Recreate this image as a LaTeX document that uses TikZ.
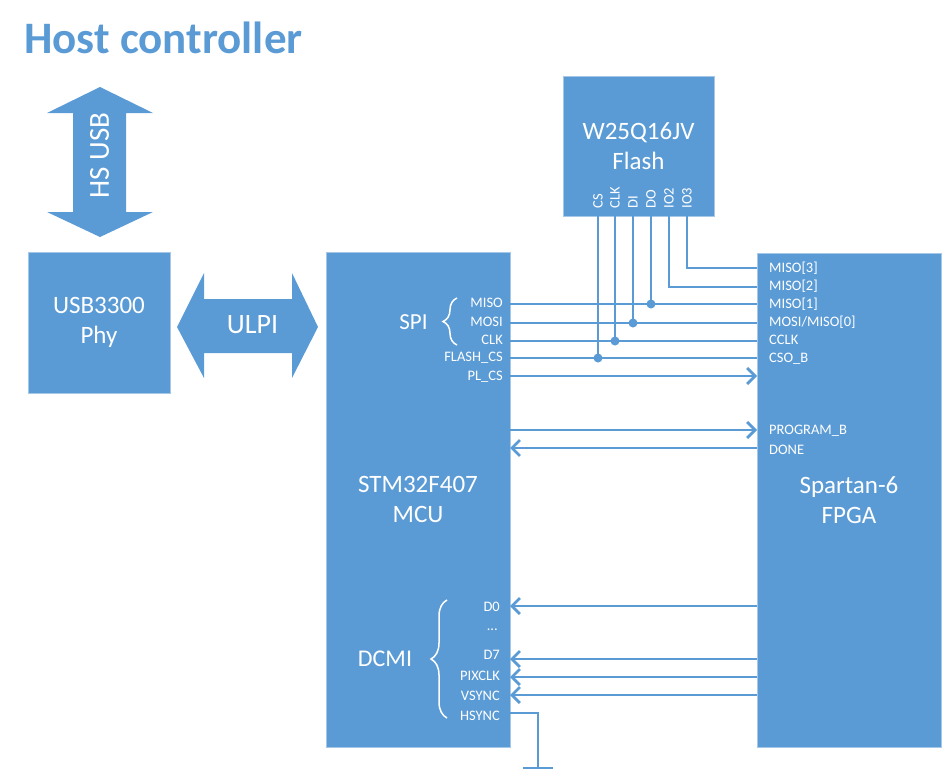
\documentclass[tikz,border=0pt]{standalone}
\usepackage{fontspec}
\setmainfont{Carlito}
\usetikzlibrary{positioning,arrows.meta,decorations.pathreplacing}
\definecolor{hcblue}{HTML}{5B9BD5}

\begin{document}
\begin{tikzpicture}[x=1pt, y=-1pt,
  block/.style={draw=hcblue!55!white, line width=0.8pt, fill=hcblue, text=white, align=center, inner sep=0pt, font=\fontsize{25}{30}\selectfont},
  pin/.style={text=white, inner sep=0pt, font=\fontsize{14.5}{16}\selectfont},
  wire/.style={draw=hcblue, line width=2.7pt},
  sig/.style={wire, -{Straight Barb[length=8pt,width=16pt]}},
  dot/.style={circle, fill=hcblue, inner sep=0pt, minimum size=9pt},
  curly/.style={draw=white, line width=1.5pt, decorate, decoration={brace, amplitude=#1}}]

  \useasboundingbox (0,0) rectangle (951,771);

  \node[anchor=base west, inner sep=0pt, text=hcblue, font=\bfseries\fontsize{45}{50}\selectfont] (title) at (24,53) {Host controller};

  \node[block, minimum width=142pt, minimum height=141pt] (phy) at (99,322.5) {USB3300\\Phy};
  \node[block, minimum width=184pt, minimum height=495pt] (mcu) at (418,499.5) {STM32F407\\MCU};
  \node[block, minimum width=184pt, minimum height=494pt] (fpga) at (849,500) {Spartan-6\\FPGA};
  \node[block, minimum width=151pt, minimum height=140pt] (flash) at (638.5,146) {W25Q16JV\\Flash};

  % fat double arrows
  \fill[hcblue] (100,87) -- (153,113) -- (126,113) -- (126,212) -- (153,212) -- (100,237) -- (47,212) -- (73,212) -- (73,113) -- (47,113) -- cycle;
  \node[rotate=90, inner sep=0pt, text=white, font=\fontsize{29}{32}\selectfont] (hsusb) at (99.5,155.5) {HS USB};
  \fill[hcblue] (177,327) -- (204,273) -- (204,299) -- (292,299) -- (292,273) -- (318,327) -- (292,378) -- (292,353) -- (204,353) -- (204,378) -- cycle;
  \node[inner sep=0pt, text=white, font=\fontsize{28}{32}\selectfont] (ulpi) at (252.5,325) {ULPI};

  % flash pins
  \foreach \nm/\px/\lab in {cs/598/CS, clk/615/CLK, di/633/DI, do/651/DO, iotwo/669/IO2, iothree/687/IO3} {
    \coordinate (f\nm) at (\px,216);
    \node[pin, rotate=90, anchor=west] (l\nm) at (\px,208.5) {\lab};
  }

  % mcu pins
  \foreach \nm/\py in {miso/304, mosi/323, clk/341, fcs/358, plcs/376, prog/430, done/448, dz/606, ds/659, pix/677, vs/695, hs/713}
    \coordinate (m\nm) at (510,\py);
  \foreach \nm/\py/\lab in {miso/307/MISO, mosi/326/MOSI, clk/344/CLK, fcs/361/FLASH\_CS, plcs/380/PL\_CS}
    \node[pin, anchor=base east] (lm\nm) at (503,\py) {\lab};
  \foreach \nm/\py/\lab in {dz/611/D0, ds/659/D7, pix/680/PIXCLK, vs/700/VSYNC, hs/720/HSYNC}
    \node[pin, anchor=base east] (lm\nm) at (500,\py) {\lab};
  \node[pin, anchor=base east] (lmdots) at (498,630) {...};

  % fpga pins
  \foreach \nm/\py in {mthree/268, mtwo/287, mone/304, mzero/323, cclk/341, cso/358, plcs/376, prog/430, done/448, dz/606, ds/659, pix/677, vs/695}
    \coordinate (p\nm) at (757,\py);
  \foreach \nm/\py/\lab in {mthree/272/{MISO[3]}, mtwo/290/{MISO[2]}, mone/308/{MISO[1]}, mzero/326/{MOSI/MISO[0]}, cclk/344/CCLK, cso/362/CSO\_B, prog/434/PROGRAM\_B, done/454/DONE}
    \node[pin, anchor=base west] (lp\nm) at (769,\py) {\lab};

  \node[text=white, inner sep=0pt, font=\fontsize{23}{26}\selectfont] (spi) at (413.5,322) {SPI};
  \node[text=white, inner sep=0pt, font=\fontsize{24}{26}\selectfont] (dcmi) at (385,659) {DCMI};
  \draw[curly=14pt] (457,345) -- (457,298);
  \draw[curly=16pt] (447,718) -- (447,600);

  \draw[wire] (mmiso) -- (pmone);
  \draw[wire] (mmosi) -- (pmzero);
  \draw[wire] (mclk) -- (pcclk);
  \draw[wire] (mfcs) -- (pcso);
  \draw[sig] (mplcs) -- (pplcs);
  \draw[sig] (mprog) -- (pprog);
  \draw[sig] (pdone) -- (mdone);

  \node[dot] (jdo) at (fdo |- mmiso) {};
  \node[dot] (jdi) at (fdi |- mmosi) {};
  \node[dot] (jclk) at (fclk |- mclk) {};
  \node[dot] (jcs) at (fcs |- mfcs) {};
  \draw[wire] (fdo) -- (jdo.center);
  \draw[wire] (fdi) -- (jdi.center);
  \draw[wire] (fclk) -- (jclk.center);
  \draw[wire] (fcs) -- (jcs.center);
  \draw[wire] (fiotwo) |- (pmtwo);
  \draw[wire] (fiothree) |- (pmthree);

  \draw[sig] (pdz) -- (mdz);
  \draw[sig] (pds) -- (mds);
  \draw[sig] (ppix) -- (mpix);
  \draw[sig] (pvs) -- (mvs);

  \coordinate (gnd) at (538,768);
  \draw[wire] (mhs) -| (gnd);
  \draw[wire] ([xshift=-15pt]gnd) -- ([xshift=15pt]gnd);
\end{tikzpicture}
\end{document}
